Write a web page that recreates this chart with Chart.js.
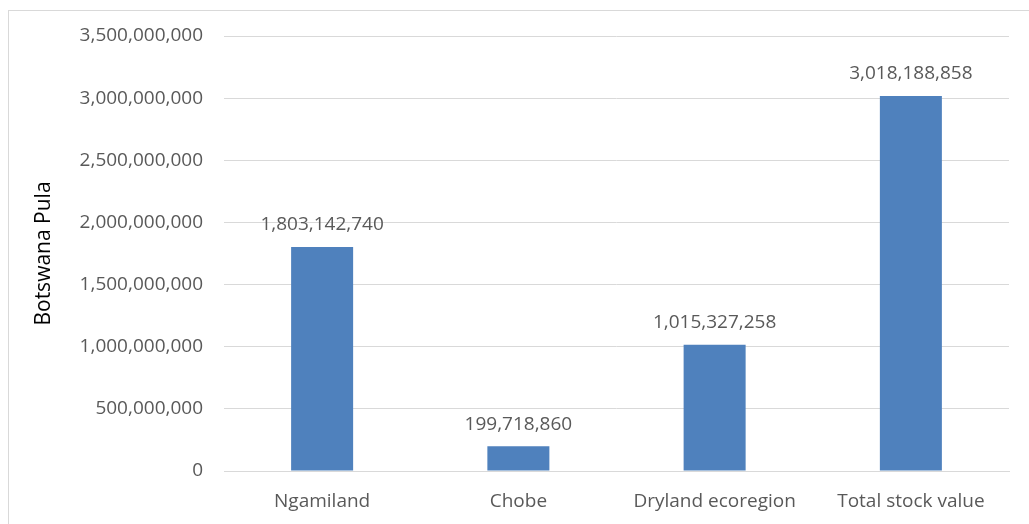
<!DOCTYPE html>
<html>
<head>
<meta charset="utf-8">
<script src="https://cdn.jsdelivr.net/npm/chart.js@4/dist/chart.umd.min.js"></script>
<style>
  html, body { margin: 0; padding: 0; background: #ffffff; }
  #wrap { width: 1029px; height: 524px; position: relative; }
</style>
</head>
<body>
<div id="wrap"><canvas id="c"></canvas></div>
<script>
// Natural resource stock values by region (Botswana Pula)
const categories = ['Ngamiland', 'Chobe', 'Dryland ecoregion', 'Total stock value'];
const stockValues = [1803142740, 199718860, 1015327258, 3018188858];
const yAxisTitle = 'Botswana Pula';

const FONT = "'Open Sans', 'Liberation Sans', sans-serif";
const TEXT = '#595959';
const GRID = '#d9d9d9';

const fmt = v => Math.round(v).toLocaleString('en-US');

// Outer chart frame
const framePlugin = {
  id: 'frame',
  beforeDraw(chart) {
    const ctx = chart.ctx;
    ctx.save();
    ctx.fillStyle = '#ffffff';
    ctx.fillRect(0, 0, chart.width, chart.height);
    ctx.strokeStyle = GRID;
    ctx.lineWidth = 1;
    ctx.strokeRect(8.5, 10.5, chart.width + 20, chart.height + 20);
    ctx.restore();
  }
};

// Value labels above each bar
const valueLabels = {
  id: 'valueLabels',
  afterDatasetsDraw(chart) {
    const ctx = chart.ctx;
    const meta = chart.getDatasetMeta(0);
    ctx.save();
    ctx.font = '19px ' + FONT;
    ctx.fillStyle = TEXT;
    ctx.textAlign = 'center';
    ctx.textBaseline = 'middle';
    meta.data.forEach((bar, i) => {
      ctx.fillText(fmt(chart.data.datasets[0].data[i]), bar.x, bar.y - 22);
    });
    ctx.restore();
  }
};

new Chart(document.getElementById('c'), {
  type: 'bar',
  data: {
    labels: categories,
    datasets: [{
      data: stockValues,
      backgroundColor: '#4f81bd',
      borderWidth: 0,
      barPercentage: 1,
      categoryPercentage: 0.316
    }]
  },
  options: {
    responsive: true,
    maintainAspectRatio: false,
    animation: false,
    devicePixelRatio: 1,
    layout: { padding: { left: 31, top: 36, right: 20, bottom: 0 } },
    plugins: {
      legend: { display: false },
      tooltip: { enabled: false }
    },
    scales: {
      x: {
        grid: { display: false, drawTicks: false },
        border: { display: true, color: GRID, width: 1 },
        ticks: { color: TEXT, font: { family: FONT, size: 19 }, padding: 19, maxRotation: 0 },
        afterFit(scale) { scale.height = 53; }
      },
      y: {
        min: 0,
        max: 3500000000,
        grid: { color: GRID, drawTicks: false },
        border: { display: false },
        ticks: {
          stepSize: 500000000,
          color: TEXT,
          font: { family: FONT, size: 19 },
          padding: 21,
          callback: v => fmt(v)
        },
        title: {
          display: true,
          text: yAxisTitle,
          color: '#000000',
          font: { family: FONT, size: 21 },
          padding: 0
        },
        afterFit(scale) { scale.width = 193; }
      }
    }
  },
  plugins: [framePlugin, valueLabels]
});
</script>
</body>
</html>
